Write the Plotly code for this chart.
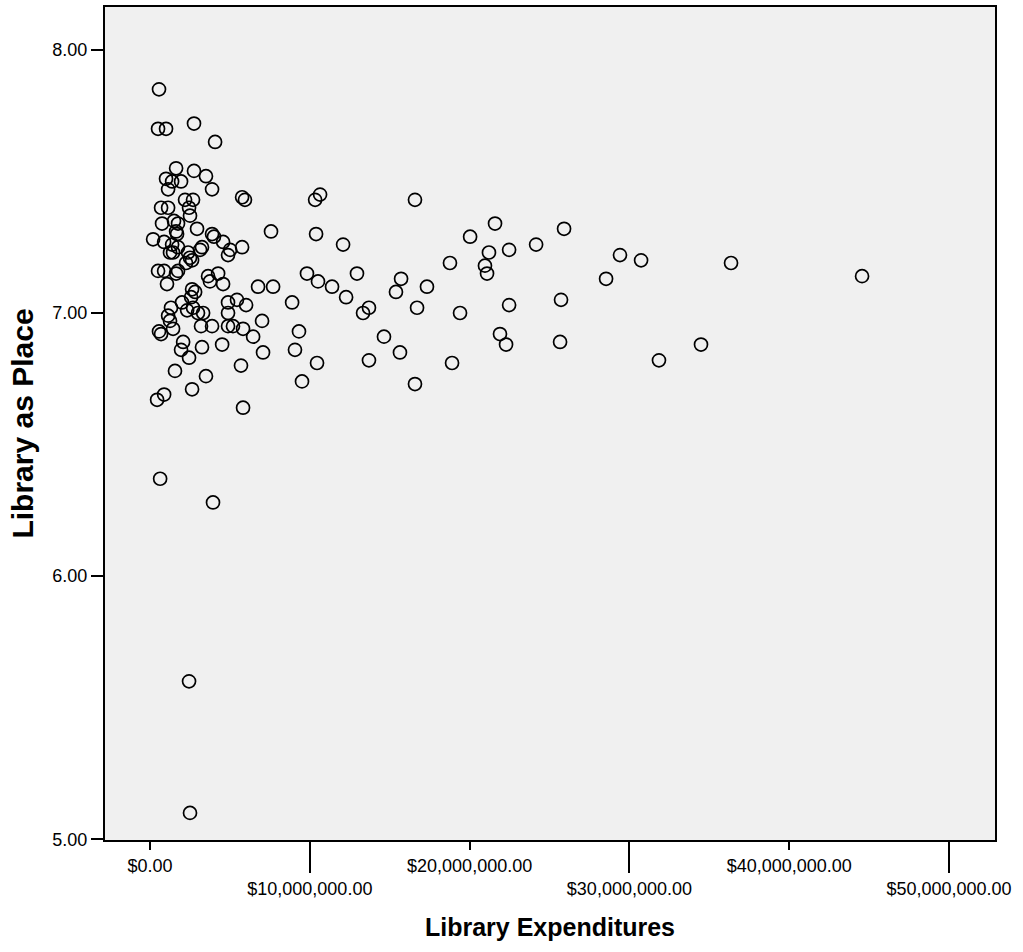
import plotly.graph_objects as go

# Library Expenditures (millions of US$) and "Library as Place" scores
expend_millions = [
    0.56, 0.50, 1.00, 2.75, 4.07, 1.63, 2.75, 3.50, 1.00, 1.38, 1.94, 1.13,
    3.88, 5.76, 5.94, 2.19, 2.69, 2.44, 0.69, 1.13, 2.50, 7.57, 2.94, 0.75,
    1.50, 1.75, 1.63, 1.69, 0.19, 0.88, 3.88, 4.00, 4.57, 5.76, 5.01, 4.88,
    1.38, 1.75, 1.44, 1.25, 3.25, 3.13, 2.38, 2.50, 2.63, 2.25, 0.50, 0.88,
    1.75, 1.63, 3.63, 4.26, 3.75, 1.06, 4.57, 6.76, 7.70, 2.63, 2.82, 2.57,
    8.89, 4.88, 5.44, 6.01, 1.31, 1.13, 1.25, 2.00, 2.32, 2.69, 3.00, 3.32,
    4.88, 7.01, 0.56, 0.69, 1.44, 3.19, 3.88, 4.88, 5.19, 5.82, 6.45, 7.07,
    2.07, 1.94, 3.25, 4.51, 2.44, 5.69, 1.56, 3.50, 2.63, 0.88, 0.44, 5.82,
    0.63, 3.94, 2.44, 2.50,
    10.64, 10.33, 16.58, 10.39, 12.08, 20.03, 21.59, 21.21, 22.47, 24.16, 25.91,
    18.77, 20.96, 21.09, 9.82, 10.51, 11.39, 12.95, 12.27, 15.71, 15.39, 17.33,
    13.70, 13.33, 16.71, 19.40, 22.47, 25.72, 9.32, 9.07, 14.64, 15.64, 21.90,
    22.28, 25.66, 10.45, 13.70, 18.90, 9.51, 16.58,
    29.41, 30.73, 28.54, 36.36, 44.56, 34.48, 31.85,
]
library_as_place = [
    7.85, 7.70, 7.70, 7.72, 7.65, 7.55, 7.54, 7.52, 7.51, 7.50, 7.50, 7.47,
    7.47, 7.44, 7.43, 7.43, 7.43, 7.40, 7.40, 7.40, 7.37, 7.31, 7.32, 7.34,
    7.35, 7.34, 7.31, 7.30, 7.28, 7.27, 7.30, 7.29, 7.27, 7.25, 7.24, 7.22,
    7.26, 7.25, 7.23, 7.23, 7.25, 7.24, 7.23, 7.21, 7.20, 7.19, 7.16, 7.16,
    7.16, 7.15, 7.14, 7.15, 7.12, 7.11, 7.11, 7.10, 7.10, 7.09, 7.08, 7.06,
    7.04, 7.04, 7.05, 7.03, 7.02, 6.99, 6.97, 7.04, 7.01, 7.02, 7.00, 7.00,
    7.00, 6.97, 6.93, 6.92, 6.94, 6.95, 6.95, 6.95, 6.95, 6.94, 6.91, 6.85,
    6.89, 6.86, 6.87, 6.88, 6.83, 6.80, 6.78, 6.76, 6.71, 6.69, 6.67, 6.64,
    6.37, 6.28, 5.60, 5.10,
    7.45, 7.43, 7.43, 7.30, 7.26, 7.29, 7.34, 7.23, 7.24, 7.26, 7.32,
    7.19, 7.18, 7.15, 7.15, 7.12, 7.10, 7.15, 7.06, 7.13, 7.08, 7.10,
    7.02, 7.00, 7.02, 7.00, 7.03, 7.05, 6.93, 6.86, 6.91, 6.85, 6.92,
    6.88, 6.89, 6.81, 6.82, 6.81, 6.74, 6.73,
    7.22, 7.20, 7.13, 7.19, 7.14, 6.88, 6.82,
]

x_ticks_upper = [0, 20_000_000, 40_000_000]
x_labels_upper = ["$0.00", "$20,000,000.00", "$40,000,000.00"]
x_ticks_lower = [10_000_000, 30_000_000, 50_000_000]
x_labels_lower = ["$10,000,000.00", "$30,000,000.00", "$50,000,000.00"]
y_ticks = [5, 6, 7, 8]
y_labels = ["5.00", "6.00", "7.00", "8.00"]

x_range = [-2.82e6, 52.88e6]
y_range = [4.997, 8.163]

FONT = "Liberation Sans, Arial, sans-serif"

expenditures = [v * 1e6 for v in expend_millions]

fig = go.Figure()
fig.add_trace(go.Scatter(
    x=expenditures, y=library_as_place, mode="markers",
    marker=dict(symbol="circle-open", size=13, color="black",
                line=dict(width=1.7, color="black")),
    showlegend=False, hoverinfo="x+y",
))
# carrier trace for the second (staggered) x axis
fig.add_trace(go.Scatter(x=[None], y=[None], xaxis="x2", mode="markers",
                         showlegend=False, hoverinfo="skip"))

fig.update_layout(
    template="none",
    width=1023, height=952,
    margin=dict(l=105, r=28, t=7, b=112, autoexpand=False),
    paper_bgcolor="white",
    plot_bgcolor="#f0f0f0",
    font=dict(family=FONT, color="black", size=18),
    xaxis=dict(
        range=x_range, tickmode="array", tickvals=x_ticks_upper, ticktext=x_labels_upper,
        ticks="outside", ticklen=8, tickwidth=2, tickcolor="black",
        showline=True, linewidth=2, linecolor="black", mirror=True,
        showgrid=False, zeroline=False, automargin=False,
        tickfont=dict(size=18, family=FONT),
        title=dict(text="<b>Library Expenditures</b>", font=dict(size=25, family=FONT),
                   standoff=44),
    ),
    xaxis2=dict(
        range=x_range, overlaying="x", anchor="y", side="bottom",
        tickmode="array", tickvals=x_ticks_lower, ticktext=x_labels_lower,
        ticks="outside", ticklen=32, tickwidth=2, tickcolor="black",
        showline=False, showgrid=False, zeroline=False, automargin=False,
        tickfont=dict(size=18, family=FONT),
    ),
    yaxis=dict(
        range=y_range, tickmode="array", tickvals=y_ticks, ticktext=y_labels,
        ticks="outside", ticklen=12, tickwidth=2, tickcolor="black",
        showline=True, linewidth=2, linecolor="black", mirror=True,
        showgrid=False, zeroline=False, automargin=False,
        tickfont=dict(size=18, family=FONT),
        title=dict(text="<b>Library as Place</b>", font=dict(size=30, family=FONT),
                   standoff=10),
    ),
)

fig.write_html("out.html")
